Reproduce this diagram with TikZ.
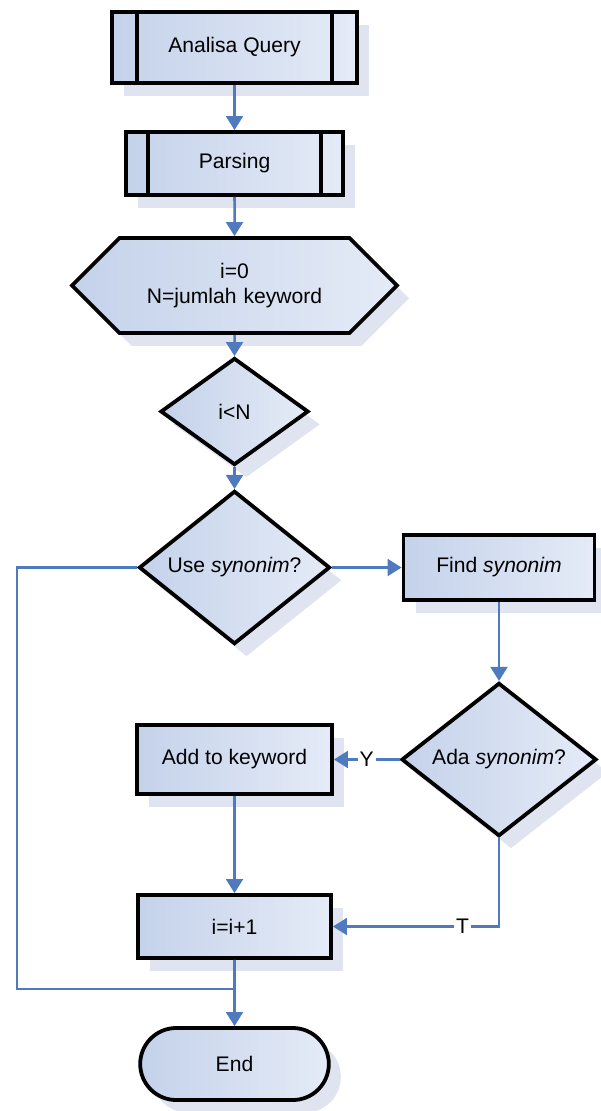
\documentclass[tikz,border=0pt]{standalone}
\usepackage{fontspec}
\setmainfont{Liberation Sans}
\usepackage{xcolor}
\usepackage{tikz}
\usetikzlibrary{positioning,calc}
\usetikzlibrary{shapes.geometric, shapes.symbols, shapes.misc, arrows.meta, shadows}
\definecolor{boxlo}{RGB}{196,210,234}
\definecolor{boxhi}{RGB}{229,235,247}
\definecolor{shadowgray}{RGB}{224,228,240}
\definecolor{linkblue}{RGB}{79,122,190}
\tikzstyle{base} = [draw=black, line width=2.7pt, left color=boxlo, right color=boxhi, text centered, font=\fontsize{15}{18}\selectfont, drop shadow={shadow xshift=0.3cm, shadow yshift=-0.32cm, fill=shadowgray, opacity=1}]
\tikzstyle{process} = [base, rectangle]
\tikzstyle{prep} = [base, signal, signal to=west and east, signal pointer angle=90, text width=5.4cm, inner xsep=0.175cm]
\tikzstyle{decision} = [base, diamond, inner sep=0pt]
\tikzstyle{stopnode} = [base, rounded rectangle]
\tikzstyle{arrow} = [line width=1.8pt, draw=linkblue, -{Triangle[width=12pt,length=10pt]}]
\tikzstyle{line} = [line width=1.8pt, draw=linkblue]
\tikzstyle{lbl} = [fill=white, inner sep=1.5pt, font=\fontsize{15}{18}\selectfont]

\begin{document}
\begin{tikzpicture}
    \useasboundingbox (0,0) rectangle (15,-27.775);
    % shapes
    \node[process, minimum width=6.125cm, minimum height=1.775cm] (analisa) at (5.8625,-1.1875) {Analisa Query};
    \node[process, minimum width=5.425cm, minimum height=1.575cm] (parsing) at (5.8625,-4.0875) {Parsing};
    \node[prep, minimum height=2.375cm] (init) at (5.8625,-7.1375) {i=0\\N=jumlah keyword};
    \node[decision, minimum width=3.7cm, minimum height=2.675cm] (cond) at (5.8625,-10.2875) {i<N};
    \node[decision, minimum width=4.775cm, minimum height=3.225cm] (usesyn) at (5.8625,-14.1875) {Use \textit{synonim}?};
    \node[process, minimum width=4.775cm, minimum height=1.625cm] (findsyn) at (12.475,-14.1875) {Find \textit{synonim}};
    \node[decision, minimum width=4.875cm, minimum height=3.625cm] (adasyn) at (12.475,-18.9875) {Ada \textit{synonim}?};
    \node[process, minimum width=4.875cm, minimum height=1.725cm] (addkw) at (5.8625,-18.9875) {Add to keyword};
    \node[process, minimum width=4.825cm, minimum height=1.575cm] (inc) at (5.8625,-23.1625) {i=i+1};
    \node[stopnode, minimum width=4.95cm, minimum height=1.8cm] (end) at (5.8625,-26.6) {End};
    % subroutine bars
    \draw[line width=2.7pt] ($(analisa.north west)+(0.675,0)$) -- ($(analisa.south west)+(0.675,0)$);
    \draw[line width=2.7pt] ($(analisa.north east)+(-0.675,0)$) -- ($(analisa.south east)+(-0.675,0)$);
    \draw[line width=2.7pt] ($(parsing.north west)+(0.6,0)$) -- ($(parsing.south west)+(0.6,0)$);
    \draw[line width=2.7pt] ($(parsing.north east)+(-0.6,0)$) -- ($(parsing.south east)+(-0.6,0)$);
    % connectors
    \coordinate (loopbot) at (0.425,-24.725);
    \coordinate (join) at (5.8625,-24.725);
    \draw[arrow] (analisa) -- (parsing);
    \draw[arrow] (parsing) -- (init);
    \draw[arrow] (init) -- (cond);
    \draw[arrow] (cond) -- (usesyn);
    \draw[arrow] (usesyn) -- (findsyn);
    \draw[arrow] (findsyn) -- (adasyn);
    \draw[arrow] (adasyn) -- node[lbl] (ylbl) {Y} (addkw);
    \draw[arrow] (addkw) -- (inc);
    \draw[arrow] (adasyn.south) |- node[lbl, pos=0.61] (tlbl) {T} (inc.east);
    \draw[line] (usesyn.west) -| (loopbot) -- (join);
    \draw[arrow] (inc) -- (end);
\end{tikzpicture}
\end{document}
